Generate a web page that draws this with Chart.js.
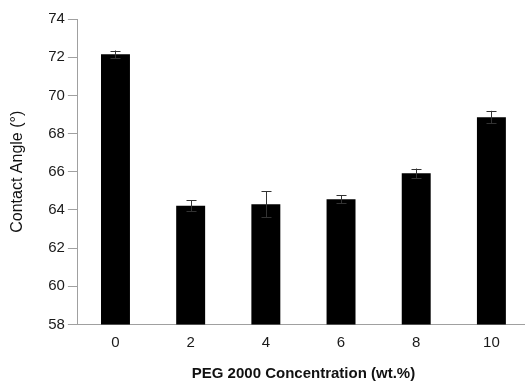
<!DOCTYPE html>
<html>
<head>
<meta charset="utf-8">
<script src="https://cdn.jsdelivr.net/npm/chart.js@4"></script>
<style>
  html, body { margin: 0; padding: 0; background: #fff; overflow: hidden; }
  #wrap { width: 530px; height: 385px; }
</style>
</head>
<body>
<div id="wrap"><canvas id="contactAngle"></canvas></div>
<script>
const concLabels = ["0", "2", "4", "6", "8", "10"];
const angleValues = [72.15, 64.22, 64.3, 64.56, 65.92, 68.86];
const angleErrors = [0.2, 0.3, 0.67, 0.2, 0.25, 0.33];
const yTicks = [58, 60, 62, 64, 66, 68, 70, 72, 74];

// error bars drawn from the y scale
const errorBars = {
    id: "errorBars",
    afterDatasetsDraw(chart) {
        const ctx = chart.ctx;
        const yScale = chart.scales.y;
        const meta = chart.getDatasetMeta(0);
        ctx.save();
        ctx.strokeStyle = "#333333";
        ctx.lineWidth = 1;
        meta.data.forEach((bar, i) => {
            const x = Math.round(bar.x) + 0.5;
            const hi = yScale.getPixelForValue(angleValues[i] + angleErrors[i]);
            const lo = yScale.getPixelForValue(angleValues[i] - angleErrors[i]);
            ctx.beginPath();
            ctx.moveTo(x, hi);
            ctx.lineTo(x, lo);
            ctx.moveTo(x - 5, Math.round(hi) + 0.5);
            ctx.lineTo(x + 5, Math.round(hi) + 0.5);
            ctx.moveTo(x - 5, Math.round(lo) + 0.5);
            ctx.lineTo(x + 5, Math.round(lo) + 0.5);
            ctx.stroke();
        });
        ctx.restore();
    }
};

new Chart(document.getElementById("contactAngle"), {
    type: "bar",
    data: {
        labels: concLabels,
        datasets: [
            {
                label: "Contact Angle",
                data: angleValues,
                backgroundColor: "#000000",
                borderWidth: 0,
                barPercentage: 0.385,
                categoryPercentage: 1.0
            }
        ]
    },
    options: {
        responsive: true,
        maintainAspectRatio: false,
        animation: false,
        layout: {
            padding: { top: 19, right: 1, bottom: 0, left: 0 }
        },
        scales: {
            x: {
                grid: { display: false, drawTicks: false },
                border: { display: true, color: "#a0a0a0", width: 1 },
                ticks: {
                    color: "#1a1a1a",
                    padding: 9.5,
                    font: { family: "Liberation Sans", size: 15 }
                },
                title: {
                    display: true,
                    text: "PEG 2000 Concentration (wt.%)",
                    color: "#111111",
                    padding: { top: 3.5, bottom: 2 },
                    font: { family: "Liberation Sans", size: 15, weight: "bold" }
                }
            },
            y: {
                min: 58,
                max: 74,
                afterBuildTicks(axis) {
                    axis.ticks = yTicks.map(v => ({ value: v }));
                },
                grid: {
                    display: true,
                    drawOnChartArea: false,
                    drawTicks: true,
                    tickLength: 10,
                    color: "#a0a0a0"
                },
                border: { display: true, color: "#a0a0a0", width: 1 },
                ticks: {
                    color: "#1a1a1a",
                    padding: 3,
                    font: { family: "Liberation Sans", size: 15 }
                },
                title: {
                    display: true,
                    text: "Contact Angle (°)",
                    color: "#111111",
                    padding: { top: 8, bottom: 18 },
                    font: { family: "Liberation Sans", size: 16 }
                }
            }
        },
        plugins: {
            legend: { display: false },
            tooltip: { enabled: false }
        }
    },
    plugins: [errorBars]
});
</script>
</body>
</html>
